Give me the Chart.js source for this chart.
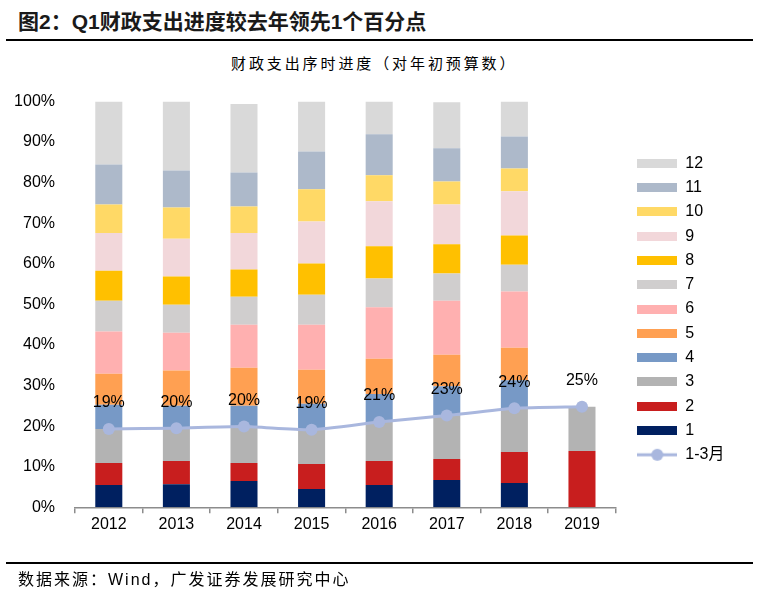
<!DOCTYPE html>
<html>
<head>
<meta charset="utf-8">
<script src="https://cdn.jsdelivr.net/npm/chart.js@4.4.0/dist/chart.umd.min.js"></script>
<style>
body{margin:0;background:#fff;}
#wrap{position:relative;width:759px;height:593px;overflow:hidden;}
#wrap div{position:absolute;white-space:nowrap;}
#title{left:18px;top:8px;font:bold 21px/27px "Liberation Sans",Arial,"Noto Sans CJK SC",sans-serif;color:#1a1a1a;}
.rule{left:6px;width:747px;height:2px;background:#000;}
#sub{left:231px;top:53px;font:15px/20px "Noto Sans CJK SC",sans-serif;letter-spacing:2.9px;color:#000;}
#src{left:18px;top:570px;font:16px/20px "Liberation Sans",Arial,"Noto Sans CJK SC",sans-serif;letter-spacing:2px;color:#000;}
canvas{position:absolute;left:0;top:0;}
</style>
</head>
<body>
<div id="wrap">
  <div id="title">图2：Q1财政支出进度较去年领先1个百分点</div>
  <div class="rule" style="top:39px"></div>
  <div id="sub">财政支出序时进度（对年初预算数）</div>
  <canvas id="myChart" width="759" height="593"></canvas>
  <div class="rule" style="top:562px"></div>
  <div id="src">数据来源：Wind，广发证券发展研究中心</div>
</div>
<script>
var years = ['2012','2013','2014','2015','2016','2017','2018','2019'];

// 每月支出进度（%），按年份排列
var m1  = [5.5, 5.7, 6.5, 4.5, 5.5, 6.7, 6.0, null];
var m2  = [5.4, 5.7, 4.4, 6.2, 5.9, 5.2, 7.6, 13.9];
var m3  = [8.4, 8.1, 9.0, 8.4, 9.6, 10.7, 10.8, 10.9];
var m4  = [6.0, 5.5, 5.1, 6.4, 6.9, 7.2, 6.9, null];
var m5  = [7.6, 8.7, 9.4, 8.4, 8.7, 7.8, 8.0, null];
var m6  = [10.4, 9.3, 10.6, 11.1, 12.7, 13.3, 13.9, null];
var m7  = [7.6, 6.9, 6.9, 7.4, 7.1, 6.7, 6.6, null];
var m8  = [7.4, 7.0, 6.7, 7.7, 7.9, 7.2, 7.2, null];
var m9  = [9.3, 9.3, 9.0, 10.3, 11.1, 9.8, 10.9, null];
var m10 = [7.0, 7.7, 6.5, 8.0, 6.4, 5.7, 5.6, null];
var m11 = [9.9, 9.1, 8.4, 9.3, 10.1, 8.2, 7.9, null];
var m12 = [15.5, 17.0, 16.9, 12.3, 8.1, 11.3, 8.6, null];

// 1-3月累计进度
var q1 = [19.3, 19.5, 19.9, 19.1, 21.0, 22.6, 24.4, 24.8];

var monthNames = ['1','2','3','4','5','6','7','8','9','10','11','12'];
var monthData = [m1,m2,m3,m4,m5,m6,m7,m8,m9,m10,m11,m12];
var monthColors = ['#002060','#C81E1E','#B3B3B3','#7799C6','#FFA052','#FFB0B0',
                   '#D0CECE','#FFC000','#F2D7DA','#FFD966','#ADB9CA','#D9D9D9'];
var lineColor = '#A9B7DE';

Chart.defaults.font.family = '"Liberation Sans", Arial, "Noto Sans CJK SC", sans-serif';
Chart.defaults.font.size = 16;
Chart.defaults.color = '#000';

//图例小图
function swatch(color){
    var c = document.createElement('canvas');
    c.width = 40; c.height = 9;
    var g = c.getContext('2d');
    g.fillStyle = color;
    g.fillRect(0, 0, 40, 9);
    return c;
}
function lineSwatch(){
    var c = document.createElement('canvas');
    c.width = 40; c.height = 14;
    var g = c.getContext('2d');
    g.strokeStyle = lineColor;
    g.lineWidth = 3;
    g.beginPath(); g.moveTo(0, 7); g.lineTo(40, 7); g.stroke();
    g.fillStyle = lineColor;
    g.beginPath(); g.arc(20, 7, 6, 0, Math.PI*2); g.fill();
    return c;
}

var datasets = [];
for(var i=0; i<12; i++){
    datasets.push({
        type: 'bar',
        label: monthNames[i],
        data: monthData[i],
        backgroundColor: monthColors[i],
        borderWidth: 0,
        stack: 'm',
        order: 1,
        barPercentage: 0.4,
        categoryPercentage: 1.0
    });
}
datasets.push({
    type: 'line',
    label: '1-3月',
    data: q1,
    borderColor: lineColor,
    backgroundColor: lineColor,
    borderWidth: 3,
    pointRadius: 6,
    pointHoverRadius: 6,
    pointBackgroundColor: lineColor,
    pointBorderWidth: 0,
    tension: 0.2,
    stack: 'q1',
    order: 0
});

//折线上的百分比
var pctLabels = {
    id: 'pctLabels',
    afterDatasetsDraw: function(chart){
        var meta = chart.getDatasetMeta(12);
        var ctx = chart.ctx;
        ctx.save();
        ctx.font = '16px "Liberation Sans", Arial';
        ctx.fillStyle = '#000';
        ctx.textAlign = 'center';
        ctx.textBaseline = 'middle';
        meta.data.forEach(function(pt, i){
            ctx.fillText(Math.round(q1[i]) + '%', pt.x, pt.y - 26);
        });
        ctx.restore();
    }
};

var ctx = document.getElementById('myChart');
var chart = new Chart(ctx, {
    data: { labels: years, datasets: datasets },
    options: {
        responsive: false,
        animation: false,
        devicePixelRatio: 1,
        layout: { padding: { top: 101.5, bottom: 52.7, left: 0, right: 24.6 } },
        scales: {
            x: {
                stacked: true,
                grid: { display: true, drawOnChartArea: false, drawTicks: true, tickLength: 6, color: '#8C8C8C', lineWidth: 1.5, offset: true },
                border: { display: true, color: '#8C8C8C', width: 1.5 },
                ticks: { padding: 2, color: '#000' },
                afterFit: function(s){ s.height = 33; }
            },
            y: {
                stacked: true,
                min: 0, max: 100,
                ticks: { stepSize: 10, padding: 12, color: '#000', callback: function(v){ return v + '%'; } },
                grid: { display: false },
                border: { display: false },
                afterFit: function(s){ s.width = 75; }
            },
            yR: {
                type: 'linear',
                position: 'right',
                display: true,
                grid: { display: false },
                border: { display: false },
                ticks: { display: false },
                afterFit: function(s){ s.width = 13.2; }
            }
        },
        plugins: {
            tooltip: { enabled: false },
            title: { display: false },
            legend: {
                position: 'right',
                fullSize: false,
                align: 'center',
                title: { display: true, text: ' ', font: { size: 6 }, padding: 1 },
                labels: {
                    usePointStyle: true,
                    pointStyleWidth: 40,
                    padding: 8.3,
                    color: '#000',
                    font: { size: 16 },
                    generateLabels: function(chart){
                        var items = Chart.defaults.plugins.legend.labels.generateLabels(chart);
                        items.forEach(function(it){
                            it.pointStyle = it.datasetIndex === 12 ? lineSwatch() : swatch(monthColors[it.datasetIndex]);
                        });
                        return items;
                    },
                    sort: function(a, b){
                        var ka = a.datasetIndex === 12 ? 100 : -a.datasetIndex;
                        var kb = b.datasetIndex === 12 ? 100 : -b.datasetIndex;
                        return ka - kb;
                    }
                }
            }
        }
    },
    plugins: [pctLabels]
});
</script>
</body>
</html>
